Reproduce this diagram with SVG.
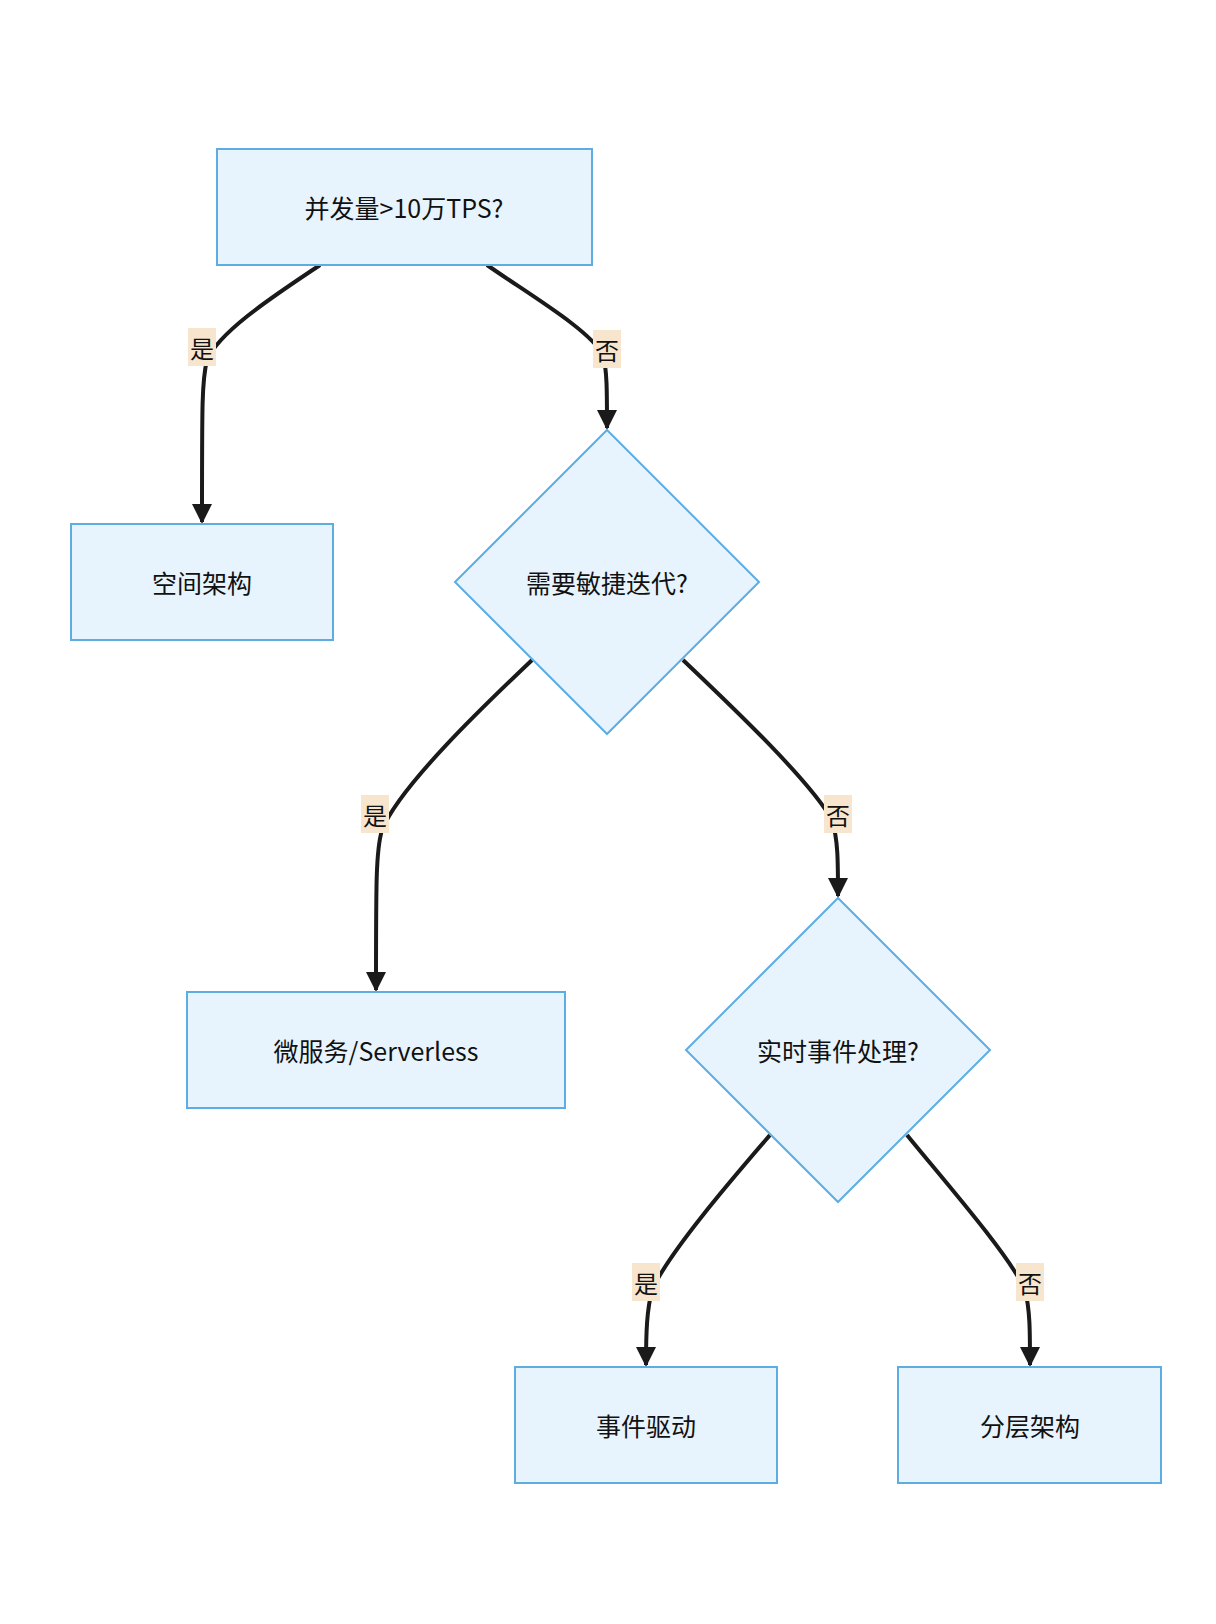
<svg xmlns="http://www.w3.org/2000/svg" width="1216" height="1624" viewBox="0 0 1216 1624">
<style>
.n{fill:#e8f4fd;stroke:#5dade2;stroke-width:2}
.t{font-family:"Noto Sans CJK SC","Liberation Sans",sans-serif;font-size:25px;fill:#111;text-anchor:middle;dominant-baseline:central}
.e{fill:none;stroke:#1a1a1a;stroke-width:4}
.lb{fill:#f7e6cd}
.lt{font-family:"Noto Sans CJK SC",sans-serif;font-size:24px;fill:#111;text-anchor:middle;dominant-baseline:central}
</style>
<defs><marker id="a" viewBox="0 0 10 10" refX="9" refY="5" markerWidth="5" markerHeight="5" orient="auto"><path d="M0,0L10,5L0,10z" fill="#1a1a1a"/></marker></defs>
<rect width="1216" height="1624" fill="#fff"/>
<g id="edges">
<path class="e" marker-end="url(#a)" d="M320,265C280,292 220,330 207,360C202,380 202,400 202,522"/>
<path class="e" marker-end="url(#a)" d="M487,265C530,295 590,330 603,355C607,370 607,390 607,428"/>
<path class="e" marker-end="url(#a)" d="M532,660C490,700 400,785 382,830C376,850 376,880 376,990"/>
<path class="e" marker-end="url(#a)" d="M683,660C725,700 810,780 832,820C838,840 838,860 838,896"/>
<path class="e" marker-end="url(#a)" d="M770,1135C740,1170 670,1250 652,1290C647,1310 646,1330 646,1365"/>
<path class="e" marker-end="url(#a)" d="M907,1135C935,1170 1010,1255 1025,1290C1030,1310 1030,1330 1030,1365"/>
<rect class="lb" x="188" y="328" width="28" height="38"/><text class="lt" x="202" y="347">是</text>
<rect class="lb" x="593" y="330" width="28" height="38"/><text class="lt" x="607" y="349">否</text>
<rect class="lb" x="361" y="795" width="28" height="38"/><text class="lt" x="375" y="814">是</text>
<rect class="lb" x="824" y="795" width="28" height="38"/><text class="lt" x="838" y="814">否</text>
<rect class="lb" x="632" y="1263" width="28" height="38"/><text class="lt" x="646" y="1282">是</text>
<rect class="lb" x="1016" y="1263" width="28" height="38"/><text class="lt" x="1030" y="1282">否</text>
</g>
<g id="n1"><rect class="n" x="217" y="149" width="375" height="116"/><text class="t" x="404" y="207">并发量&gt;10万TPS?</text></g>
<g id="n2"><rect class="n" x="71" y="524" width="262" height="116"/><text class="t" x="202" y="582">空间架构</text></g>
<g id="n3"><path class="n" d="M607,430L759,582L607,734L455,582z"/><text class="t" x="607" y="582">需要敏捷迭代?</text></g>
<g id="n4"><rect class="n" x="187" y="992" width="378" height="116"/><text class="t" x="376" y="1050">微服务/Serverless</text></g>
<g id="n5"><path class="n" d="M838,898L990,1050L838,1202L686,1050z"/><text class="t" x="838" y="1050">实时事件处理?</text></g>
<g id="n6"><rect class="n" x="515" y="1367" width="262" height="116"/><text class="t" x="646" y="1425">事件驱动</text></g>
<g id="n7"><rect class="n" x="898" y="1367" width="263" height="116"/><text class="t" x="1030" y="1425">分层架构</text></g>
</svg>
